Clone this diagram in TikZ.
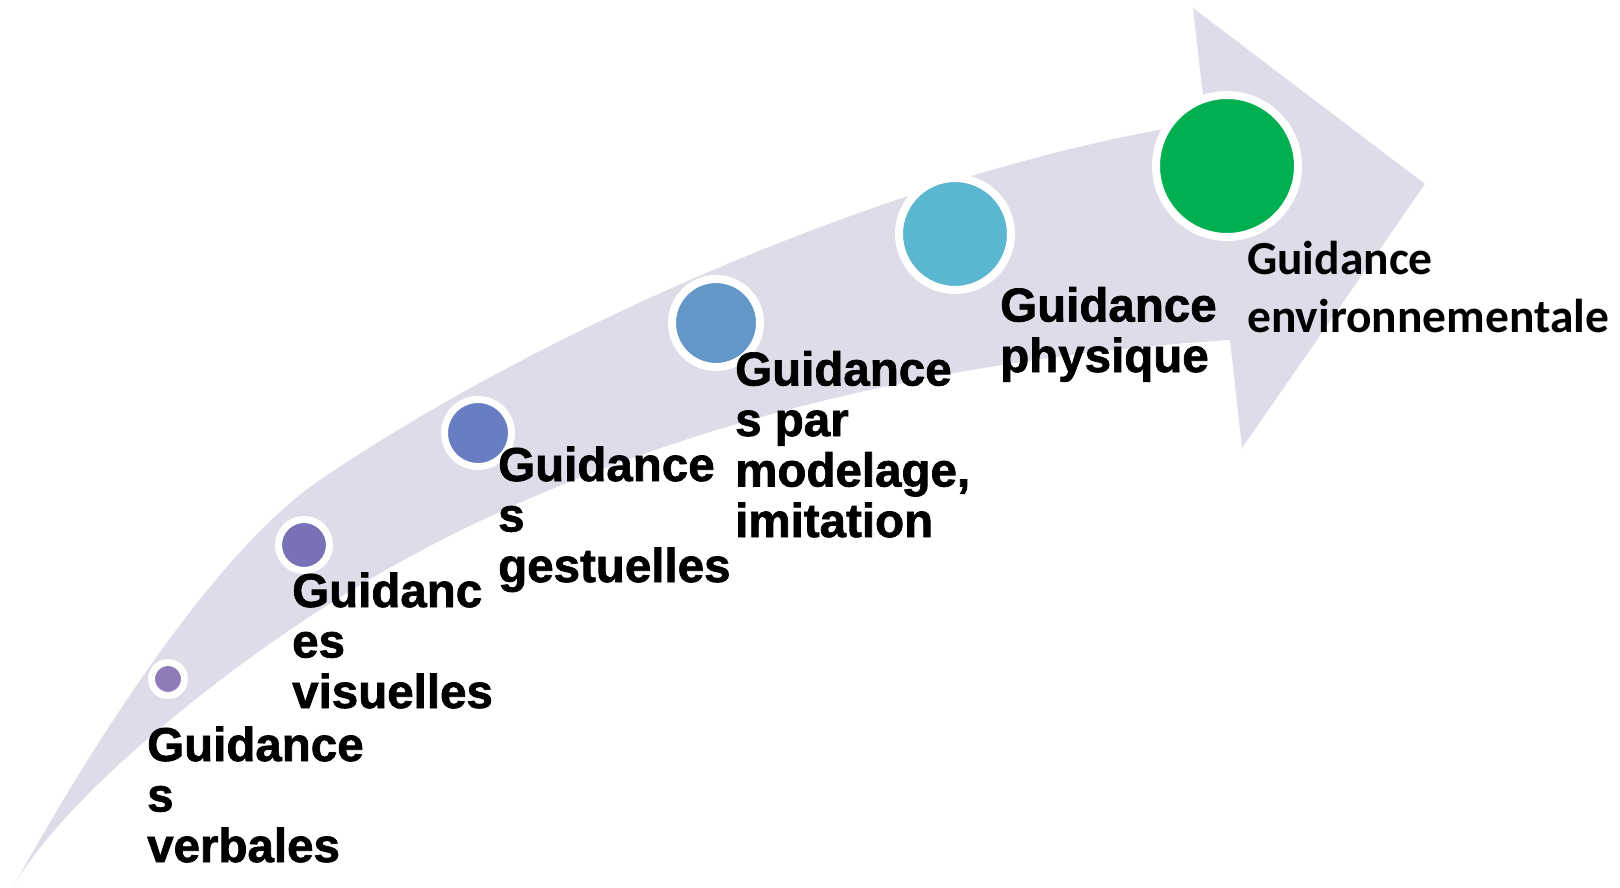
\documentclass[tikz,border=0pt]{standalone}
\usepackage{fontspec}
\setmainfont{Liberation Sans}
\newfontfamily\heavyfont{Liberation Sans}[BoldFeatures={FakeBold=1.5}]
\newfontfamily\calfont{Carlito}
\usetikzlibrary{shadows}

\definecolor{bandgray}{RGB}{222,220,233}
\definecolor{dotA}{RGB}{142,124,183}
\definecolor{dotB}{RGB}{121,113,184}
\definecolor{dotC}{RGB}{105,126,194}
\definecolor{dotD}{RGB}{99,151,200}
\definecolor{dotE}{RGB}{91,183,208}
\definecolor{dotF}{RGB}{0,176,80}

\begin{document}
\begin{tikzpicture}[x=1pt, y=-1pt,
  bead/.style={circle, draw=white, inner sep=0pt,
    drop shadow={shadow xshift=0pt, shadow yshift=-2pt, opacity=0.3}},
  stage/.style={anchor=base west, align=left, inner sep=0pt,
    font=\heavyfont\fontsize{47.5}{50.5}\selectfont\bfseries}]
  \useasboundingbox (0,0) rectangle (1620,888);

  % Curved arrow
  \fill[bandgray] (13,887) .. controls (103,725) and (220,548) .. (320,480)
    .. controls (540,330) and (906,167) .. (1206,122)
    -- (1193,8) -- (1425,184) -- (1242,448) -- (1230,340)
    .. controls (880,362) and (550,455) .. (300,623)
    .. controls (200,690) and (63,800) .. (13,887) -- cycle;

  % Steps
  \node[bead, fill=dotA, line width=7pt, minimum size=33pt] (v1) at (168,679) {};
  \node[bead, fill=dotB, line width=7pt, minimum size=51pt] (v2) at (304,545) {};
  \node[bead, fill=dotC, line width=7pt, minimum size=67pt] (v3) at (478,433) {};
  \node[bead, fill=dotD, line width=8pt, minimum size=88pt] (v4) at (716,323) {};
  \node[bead, fill=dotE, line width=8pt, minimum size=112pt] (v5) at (955,234) {};
  \node[bead, fill=dotF, line width=8pt, minimum size=142pt] (v6) at (1227,166) {};

  % Labels (placed at the baseline of their last line)
  \node[stage] (t1) at (147,862) {Guidance\\s\\verbales};
  \node[stage] (t2) at (292,708) {Guidanc\\es\\visuelles};
  \node[stage] (t3) at (498,582) {Guidance\\s\\gestuelles};
  \node[stage] (t4) at (735,537) {Guidance\\s par\\modelage,\\imitation};
  \node[stage] (t5) at (1000,372) {Guidance\\physique};
  \node[stage, font=\calfont\fontsize{47.5}{58}\selectfont\bfseries] (t6) at (1247,332)
    {Guidance\\environnementale};
\end{tikzpicture}
\end{document}
